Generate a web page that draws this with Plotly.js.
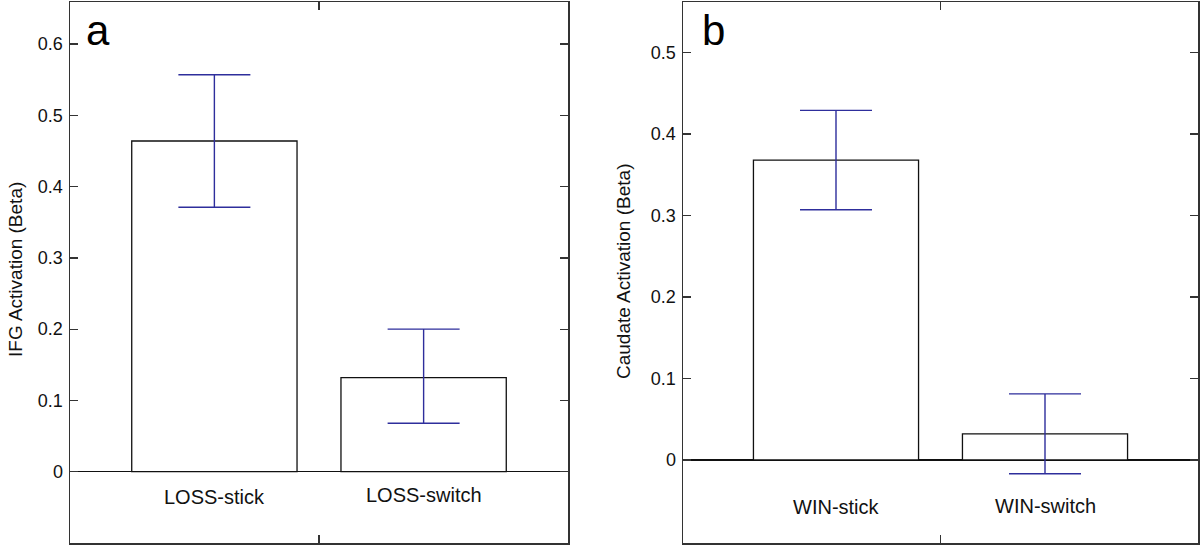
<!DOCTYPE html>
<html>
<head>
<meta charset="utf-8">
<script src="https://cdn.plot.ly/plotly-3.0.1.min.js"></script>
<style>html,body{margin:0;padding:0;background:#fff;}#chart{width:1200px;height:546px;}</style>
</head>
<body>
<div id="chart"></div>
<script>
// ---- data ----
const categoriesA = ["LOSS-stick", "LOSS-switch"];
const valuesA = [0.464, 0.132];
const errPlusA = [0.093, 0.068];
const errMinusA = [0.093, 0.064];

const categoriesB = ["WIN-stick", "WIN-switch"];
const valuesB = [0.368, 0.032];
const errPlusB = [0.061, 0.049];
const errMinusB = [0.061, 0.049];

const yTicksA = [0, 0.1, 0.2, 0.3, 0.4, 0.5, 0.6];
const yTicksB = [0, 0.1, 0.2, 0.3, 0.4, 0.5];
const yTitleA = "IFG Activation (Beta)";
const yTitleB = "Caudate Activation (Beta)";
const panelLabels = ["a", "b"];

// ---- drawing ----
const FONT = '"Liberation Sans", Arial, Helvetica, sans-serif';
const AX = '#333333';
const ERR = '#2e2e9c';
const xPos = [1, 2];

function barTrace(vals, plus, minus, xa, ya) {
  return {
    type: 'bar', x: xPos, y: vals, xaxis: xa, yaxis: ya, width: 0.79,
    marker: {color: '#ffffff', line: {color: '#111111', width: 1.3}},
    error_y: {type: 'data', symmetric: false, array: plus, arrayminus: minus,
              color: ERR, thickness: 1.4, width: 36},
    hoverinfo: 'skip', showlegend: false
  };
}

function xAxis(domain, range, anchor) {
  return {domain: domain, range: range, anchor: anchor,
    tickvals: [1.5], showticklabels: false, ticks: 'inside', ticklen: 8, tickwidth: 1.3,
    tickcolor: AX, showline: true, linecolor: AX, linewidth: 1.5, mirror: 'allticks',
    showgrid: false, zeroline: false, fixedrange: true};
}
function yAxis(domain, range, ticks, anchor) {
  return {domain: domain, range: range, anchor: anchor,
    tickvals: ticks, ticktext: ticks.map(String), ticks: 'inside', ticklen: 8, tickwidth: 1.3,
    tickcolor: AX, showline: true, linecolor: AX, linewidth: 1.5, mirror: 'allticks',
    showgrid: false, zeroline: true, zerolinecolor: '#111111', zerolinewidth: 1.3,
    tickfont: {family: FONT, size: 18, color: '#111'}, ticklabelstandoff: 2, fixedrange: true};
}

const traces = [
  barTrace(valuesA, errPlusA, errMinusA, 'x', 'y'),
  barTrace(valuesB, errPlusB, errMinusB, 'x2', 'y2')
];

const catY = [[-0.036, -0.033], [-0.058, -0.056]];
const annotations = [];
categoriesA.forEach((c, i) => annotations.push({xref: 'x', yref: 'y', x: xPos[i], y: catY[0][i],
  text: c, showarrow: false, font: {family: FONT, size: 20, color: '#111'}}));
categoriesB.forEach((c, i) => annotations.push({xref: 'x2', yref: 'y2', x: xPos[i], y: catY[1][i],
  text: c, showarrow: false, font: {family: FONT, size: 20, color: '#111'}}));
annotations.push({xref: 'paper', yref: 'paper', x: 15/1200, y: 1 - 270/546, textangle: -90,
  text: yTitleA, showarrow: false, xanchor: 'center', yanchor: 'middle', font: {family: FONT, size: 19, color: '#111'}});
annotations.push({xref: 'paper', yref: 'paper', x: 623/1200, y: 1 - 272/546, textangle: -90,
  text: yTitleB, showarrow: false, xanchor: 'center', yanchor: 'middle', font: {family: FONT, size: 19, color: '#111'}});
annotations.push({xref: 'paper', yref: 'paper', x: 84/1200, y: 1 - 30/546, xanchor: 'left', yanchor: 'middle',
  text: panelLabels[0], showarrow: false, font: {family: FONT, size: 42, color: '#000'}});
annotations.push({xref: 'paper', yref: 'paper', x: 700/1200, y: 1 - 30/546, xanchor: 'left', yanchor: 'middle',
  text: panelLabels[1], showarrow: false, font: {family: FONT, size: 42, color: '#000'}});

const yDom = [1 - 543/546, 1 - 2/546];
const layout = {
  width: 1200, height: 546, margin: {l: 0, r: 0, t: 0, b: 0},
  paper_bgcolor: '#fff', plot_bgcolor: '#fff', showlegend: false,
  font: {family: FONT, color: '#111'},
  xaxis: xAxis([70/1200, 568/1200], [0.31, 2.69], 'y'),
  yaxis: yAxis(yDom, [-0.1, 0.659], yTicksA, 'x'),
  xaxis2: xAxis([683/1200, 1198/1200], [0.268, 2.732], 'y2'),
  yaxis2: yAxis(yDom, [-0.102, 0.562], yTicksB, 'x2'),
  annotations: annotations
};

Plotly.newPlot('chart', traces, layout, {displayModeBar: false, staticPlot: true});
</script>
</body>
</html>
